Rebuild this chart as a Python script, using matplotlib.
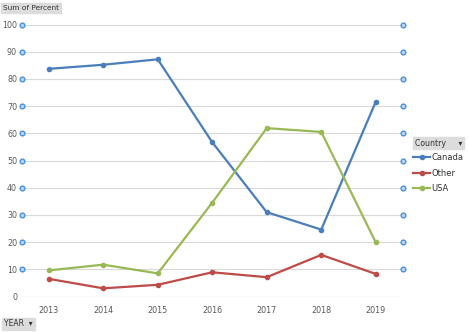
import matplotlib
matplotlib.use("Agg")
import matplotlib.pyplot as plt

years = ["2013", "2014", "2015", "2016", "2017", "2018", "2019"]
canada = [83.7, 85.2, 87.2, 56.7, 31.0, 24.6, 71.6]
other = [6.5, 3.0, 4.3, 8.9, 7.1, 15.3, 8.3]
usa = [9.6, 11.7, 8.5, 34.5, 61.9, 60.5, 19.9]
series_names = ["Canada", "Other", "USA"]
y_ticks = [0, 10, 20, 30, 40, 50, 60, 70, 80, 90, 100]

colors = {"Canada": "#4A7EBB", "Other": "#BE4B48", "USA": "#98B954"}
text_color = "#595959"
font = ["DejaVu Sans"]

fig = plt.figure(figsize=(4.69, 3.32), dpi=100)
ax = fig.add_axes([21.5 / 469, 1 - 296.5 / 332, (403 - 21.5) / 469, (296.5 - 24.5) / 332])

x = list(range(len(years)))
handles = []
for name, vals in zip(series_names, [canada, other, usa]):
    h, = ax.plot(x, vals, color=colors[name], lw=1.6, marker="o", ms=3.0,
                 zorder=3, solid_joinstyle="round")
    handles.append(h)

ax.set_xlim(-0.5, len(years) - 0.5)
ax.set_ylim(0, 100)
ax.set_yticks(y_ticks)
ax.set_xticks(x)
ax.set_xticklabels(years)
ax.tick_params(axis="both", length=0, labelsize=5.8, labelcolor=text_color)
ax.tick_params(axis="y", pad=3.2)
ax.tick_params(axis="x", pad=7)
for lbl in ax.get_xticklabels() + ax.get_yticklabels():
    lbl.set_family(font)

ax.grid(axis="y", color="#D9D9D9", lw=0.8, zorder=0)
for s in ax.spines.values():
    s.set_visible(False)
ax.axhline(0, color="#D9D9D9", lw=0.8, zorder=1)

# small handle markers at both ends of each gridline
for yv in y_ticks[1:]:
    for xe in (-0.5, len(years) - 0.5):
        ax.plot([xe], [yv], marker="o", ms=3.4, mfc="#BDD7EE", mec="#4A90D9",
                mew=1.0, clip_on=False, zorder=4)

# field buttons
btn = dict(boxstyle="square,pad=0.25", fc="#DCDCDC", ec="#DCDCDC")
fig.text(3 / 469, 1 - 8 / 332, "Sum of Percent", fontsize=5.3, color="#333333",
         va="center", ha="left", bbox=btn, family=font)
fig.text(4 / 469, 1 - 324 / 332, "YEAR  \u25BE", fontsize=5.5, color="#333333",
         va="center", ha="left", bbox=btn, family=font)
fig.text(415 / 469, 1 - 143 / 332, "Country     \u25BE", fontsize=5.6, color="#333333",
         va="center", ha="left", bbox=btn, family=font)

leg = fig.legend(handles, series_names, loc="upper left",
                 bbox_to_anchor=(410 / 469, 1 - 150 / 332), frameon=False,
                 handlelength=2.0, handletextpad=0.2,
                 labelspacing=0.75, borderaxespad=0, prop={"family": font, "size": 6})
for t in leg.get_texts():
    t.set_color("#333333")

fig.savefig("out.png", dpi=100, facecolor="white")
